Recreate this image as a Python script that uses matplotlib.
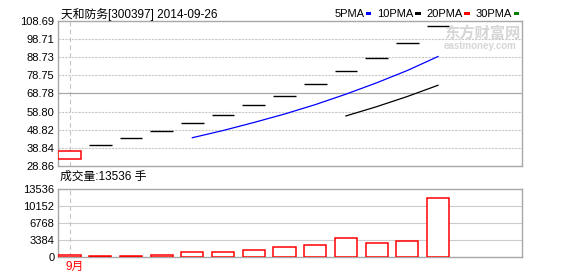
import numpy as np
import pandas as pd
import matplotlib
matplotlib.use('Agg')
import matplotlib.pyplot as plt
from matplotlib.patches import Rectangle

plt.rcParams['font.family'] = ['Liberation Sans', 'Noto Sans CJK SC', 'DejaVu Sans']

# 天和防务 300397, 2014-09-10 .. 2014-09-26 (新股连续一字涨停)
opens = [32.55, 40.42, 44.28, 47.97, 52.37, 56.94, 62.45, 67.57, 73.85, 81.17, 88.16, 96.42, 106.11]
closes = [37.12, 40.42, 44.28, 47.97, 52.37, 56.94, 62.45, 67.57, 73.85, 81.17, 88.16, 96.42, 106.11]
volumes = [380, 150, 150, 340, 1000, 1000, 1340, 1950, 2290, 3690, 2690, 3090, 11730]

price_ticks = [28.86, 38.84, 48.82, 58.80, 68.78, 78.75, 88.73, 98.71, 108.69]
vol_ticks = [0, 3384, 6768, 10152, 13536]
month_pos = [0]
month_labels = ['9月']

ma_names = ['5PMA', '10PMA', '20PMA', '30PMA']
ma_periods = [5, 10, 20, 30]
ma_colors = ['#0000ff', '#000000', '#ff0000', '#008000']

title = '天和防务[300397] 2014-09-26'
vol_title = '成交量:13536 手'

W, H = 578, 276
fig = plt.figure(figsize=(W / 100, H / 100), dpi=100)


def fx(px):
    return px / W


def fy(py):
    return 1 - py / H


ax = fig.add_axes([fx(58), fy(166), fx(522 - 58), (166 - 21) / H])
axv = fig.add_axes([fx(58), fy(256.7), fx(522 - 58), (256.7 - 189.3) / H])

x = np.arange(len(closes))
xlim = (-0.375, 14.735)
border = '#a8a8a8'

for a in (ax, axv):
    a.set_xlim(*xlim)
    for s in a.spines.values():
        s.set_color(border)
        s.set_linewidth(1.0)
    a.tick_params(length=0, labelsize=8, pad=2.5, colors='black')
    a.set_xticks([])
    for p in month_pos:
        a.axvline(p, color='#c4c4c4', lw=0.8, ls=(0, (4, 3)), zorder=1)

# price panel
ax.set_ylim(price_ticks[0], price_ticks[-1])
ax.set_yticks(price_ticks)
ax.set_yticklabels(['%.2f' % t for t in price_ticks])
mid = price_ticks[len(price_ticks) // 2]
for t in price_ticks[1:-1]:
    if t == mid:
        ax.axhline(t, color='#a8a8a8', lw=0.9, zorder=1)
    else:
        ax.axhline(t, color='#c8c8c8', lw=0.8, ls=(0, (2, 1)), zorder=1)

w = 0.74
for i, (o, c) in enumerate(zip(opens, closes)):
    if o == c:
        ax.hlines(c, i - w / 2, i + w / 2, color='black', lw=1.0, zorder=3)
    else:
        lo, hi = min(o, c), max(o, c)
        col = 'red' if c > o else '#008000'
        ax.add_patch(Rectangle((i - w / 2, lo), w, hi - lo, facecolor='white',
                               edgecolor=col, lw=1.1, zorder=3))

cs = pd.Series(closes)
for n, col in zip(ma_periods, ma_colors):
    ma = cs.rolling(n).mean()
    ax.plot(x, ma, color=col, lw=0.9, zorder=4)

# volume panel
axv.set_ylim(vol_ticks[0], vol_ticks[-1])
axv.set_yticks(vol_ticks)
axv.set_yticklabels([str(t) for t in vol_ticks])
for t in vol_ticks[1:-1]:
    axv.axhline(t, color='#cccccc', lw=0.8, zorder=1)
axv.bar(x, volumes, width=0.72, facecolor='white', edgecolor='red', lw=1.1, zorder=3)

for p, lab in zip(month_pos, month_labels):
    axv.text(p - 0.12, -0.06, lab, transform=axv.get_xaxis_transform(),
             ha='left', va='top', color='red', fontsize=8.5)

# texts
fig.text(fx(61), fy(14), title, fontsize=8.5, va='center', ha='left')
fig.text(fx(60), fy(176.7), vol_title, fontsize=8.5, va='center', ha='left')

# legend, laid out right-to-left so the last marker ends near x=519
fig.canvas.draw()
r = fig.canvas.get_renderer()
right = 519
for name, col in reversed(list(zip(ma_names, ma_colors))):
    fig.add_artist(Rectangle((fx(right - 5.5), fy(15)), fx(5.5), 3 / H,
                             transform=fig.transFigure, color=col, lw=0))
    t = fig.text(fx(right - 7), fy(14), name, fontsize=8, va='center', ha='right')
    bb = t.get_window_extent(renderer=r)
    right = bb.x0 - 6

# watermark
fig.text(fx(444), fy(33), '东方财富网', fontsize=11, weight='bold', color='#d6d6d6',
         va='center', ha='left', family='Noto Sans CJK SC')
fig.text(fx(444), fy(46), 'eastmoney.com', fontsize=7, weight='bold', color='#d6d6d6',
         va='center', ha='left')

fig.savefig('out.png', dpi=100)
